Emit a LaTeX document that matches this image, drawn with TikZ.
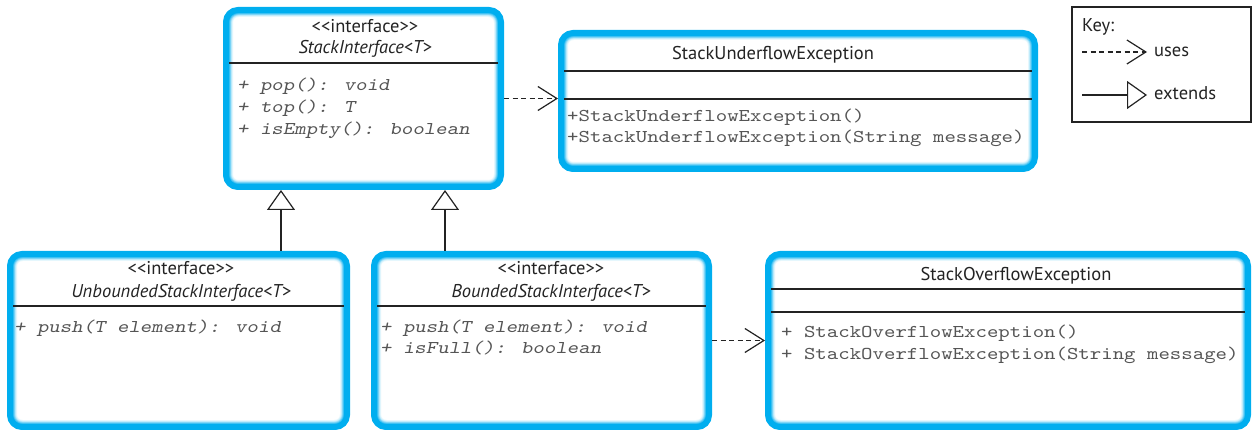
\documentclass[tikz,border=0pt]{standalone}
\usepackage{fontspec}
\setmainfont{PT Sans}
\newfontfamily\umlmono{lmmono10-regular.otf}[ItalicFont=lmmonoslant10-regular.otf, FakeStretch=1.21]
\usetikzlibrary{arrows.meta,calc}
\definecolor{boxcyan}{RGB}{0,174,239}
\definecolor{inkgray}{RGB}{35,35,35}
\definecolor{codegray}{RGB}{85,85,85}

\tikzset{
  umlbox/.style={draw=boxcyan, line width=6pt, rounded corners=12pt, fill=white,
    inner sep=0pt,
    path picture={
      \foreach \w/\c in {14/10,12/25,10/50,8/75}{
        \draw[boxcyan!\c, line width=\w pt, rounded corners=12pt]
          (path picture bounding box.south west) rectangle
          (path picture bounding box.north east);}
    }},
  rule/.style={draw=inkgray, line width=1.2pt},
  head/.style={font=\fontsize{18.5}{20}\selectfont, text=inkgray, inner sep=0pt, anchor=base},
  headit/.style={head, font=\fontsize{18.5}{20}\selectfont\itshape},
  code/.style={font=\umlmono\fontsize{18}{20}\selectfont, text=codegray, inner sep=0pt,
    anchor=base west},
  codeit/.style={code, font=\umlmono\fontsize{18}{20}\selectfont\itshape},
  uses/.style={draw=inkgray, line width=1.2pt, dash pattern=on 5pt off 3.5pt,
    -{Straight Barb[length=19pt, width=24pt]}},
  extends/.style={draw=inkgray, line width=1.2pt,
    -{Triangle[length=20pt, width=28pt, fill=white]}},
}

\begin{document}
\begin{tikzpicture}[x=1pt, y=-1pt]
\useasboundingbox (0,0) rectangle (1252,430);

% class boxes
\node[umlbox, minimum width=275pt, minimum height=177pt] (si)  at (363.5,98.5) {};
\node[umlbox, minimum width=474pt, minimum height=136pt] (sue) at (798,101) {};
\node[umlbox, minimum width=337pt, minimum height=173pt] (ubi) at (178.5,340.5) {};
\node[umlbox, minimum width=335pt, minimum height=173pt] (bi)  at (541.5,340.5) {};
\node[umlbox, minimum width=480pt, minimum height=173pt] (soe) at (1008,340.5) {};

% compartment rules
\draw[rule] ($(si.west |- 0,63)+(6,0)$) -- ($(si.east |- 0,63)+(-6,0)$);
\draw[rule] ($(sue.west |- 0,71)+(6,0)$) -- ($(sue.east |- 0,71)+(-6,0)$);
\draw[rule] ($(sue.west |- 0,99)+(6,0)$) -- ($(sue.east |- 0,99)+(-6,0)$);
\draw[rule] ($(ubi.west |- 0,306)+(6,0)$) -- ($(ubi.east |- 0,306)+(-6,0)$);
\draw[rule] ($(bi.west |- 0,306)+(6,0)$) -- ($(bi.east |- 0,306)+(-6,0)$);
\draw[rule] ($(soe.west |- 0,289)+(6,0)$) -- ($(soe.east |- 0,289)+(-6,0)$);
\draw[rule] ($(soe.west |- 0,312)+(6,0)$) -- ($(soe.east |- 0,312)+(-6,0)$);

% StackInterface
\node[head]   (si-st) at (365,33) {<{}<interface>{}>};
\node[headit] (si-nm) at (365,54) {StackInterface<T>};
\node[codeit] (si-m1) at (237,91)  {+ pop(): void};
\node[codeit] (si-m2) at (237,113) {+ top(): T};
\node[codeit] (si-m3) at (237,135) {+ isEmpty(): boolean};

% StackUnderflowException
\node[head] (sue-t)  at (773,60)  {StackUnderflowException};
\node[code] (sue-m1) at (567,122) {+StackUnderflowException()};
\node[code] (sue-m2) at (567,143) {+StackUnderflowException(String message)};

% UnboundedStackInterface
\node[head]   (ubi-st) at (181,275) {<{}<interface>{}>};
\node[headit] (ubi-nm) at (181,297) {UnboundedStackInterface<T>};
\node[codeit] (ubi-m1) at (14,332)  {+ push(T element): void};

% BoundedStackInterface
\node[head]   (bi-st) at (551,275) {<{}<interface>{}>};
\node[headit] (bi-nm) at (551,297) {BoundedStackInterface<T>};
\node[codeit] (bi-m1) at (380,332) {+ push(T element): void};
\node[codeit] (bi-m2) at (380,353) {+ isFull(): boolean};

% StackOverflowException
\node[head] (soe-t)  at (1016,280) {StackOverflowException};
\node[code] (soe-m1) at (781,337)  {+ StackOverflowException()};
\node[code] (soe-m2) at (781,359)  {+ StackOverflowException(String message)};

% relations
\draw[uses] (si.east) -- (si.east -| sue.west);
\draw[uses] (bi.east) -- (bi.east -| soe.west);
\coordinate (ea) at ($(si.south)+(-82.5,0)$);
\coordinate (eb) at ($(si.south)+(81.5,0)$);
\draw[extends] (ea |- ubi.north) -- (ea);
\draw[extends] (eb |- bi.north) -- (eb);

% key
\node[draw=inkgray, line width=1.2pt, minimum width=179pt, minimum height=115pt,
      inner sep=0pt, outer sep=0pt] (key) at (1161.5,64.5) {};
\node[head, anchor=base west] (key-t) at (1082,32) {Key:};
\coordinate (ku) at (1082,52);
\coordinate (ke) at (1082,95);
\node[head, anchor=base west, inner xsep=7pt] (key-u) at (1147,57)  {uses};
\node[head, anchor=base west, inner xsep=7pt] (key-e) at (1147,100) {extends};
\draw[uses]    (ku) -- (ku -| key-u.west);
\draw[extends] (ke) -- (ke -| key-e.west);
\end{tikzpicture}
\end{document}
